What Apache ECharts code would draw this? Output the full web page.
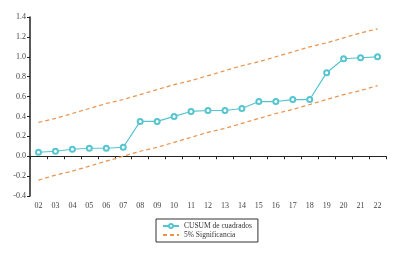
<!DOCTYPE html>
<html><head><meta charset="utf-8">
<script src="https://cdn.jsdelivr.net/npm/echarts@6/dist/echarts.min.js"></script>
<style>html,body{margin:0;padding:0;background:#fff}#c{width:395px;height:253px}</style>
</head><body><div id="c"></div>
<script>
var categories = ['02','03','04','05','06','07','08','09','10','11','12','13','14','15','16','17','18','19','20','21','22'];
var cusum = [0.04,0.05,0.07,0.08,0.08,0.09,0.35,0.35,0.40,0.45,0.46,0.46,0.48,0.55,0.55,0.57,0.57,0.84,0.98,0.99,1.00];
var upper = [0.34,0.38,0.43,0.48,0.53,0.57,0.62,0.67,0.72,0.76,0.81,0.86,0.91,0.95,1.00,1.05,1.10,1.14,1.19,1.24,1.28];
var lower = [-0.24,-0.19,-0.15,-0.10,-0.05,0.00,0.05,0.09,0.14,0.19,0.24,0.28,0.33,0.38,0.43,0.47,0.52,0.57,0.62,0.66,0.71];
var yTicks = ['-0.4','-0.2','0.0','0.2','0.4','0.6','0.8','1.0','1.2','1.4'];

var font = 'Liberation Serif';
var chart = echarts.init(document.getElementById('c'), null, {renderer:'canvas'});
chart.setOption({
  animation:false,
  textStyle:{fontFamily:font},
  grid:{left:30,right:9,top:17,bottom:57},
  legend:{
    orient:'vertical', left:156, top:219, width:103,
    padding:[3,6,3,6], itemGap:1, itemWidth:16, itemHeight:5,
    borderColor:'#333', borderWidth:1,
    textStyle:{fontFamily:font,fontSize:7.5,color:'#333'},
    data:[{name:'CUSUM de cuadrados'},{name:'5% Significancia',itemStyle:{opacity:0}}]
  },
  xAxis:{
    type:'category', data:categories, boundaryGap:true,
    axisLine:{lineStyle:{color:'#222',width:1}},
    axisTick:{show:true,length:3,lineStyle:{color:'#222'}},
    axisLabel:{fontFamily:font,fontSize:8,color:'#444',margin:6}
  },
  yAxis:{
    type:'value', min:-0.4, max:1.4, interval:0.2,
    axisLine:{show:true,lineStyle:{color:'#222',width:1.5}},
    axisTick:{show:true,length:3,lineStyle:{color:'#222'}},
    splitLine:{show:false},
    axisLabel:{fontFamily:font,fontSize:8,color:'#444',margin:4,
      formatter:function(v){var i=Math.round((v+0.4)/0.2);return yTicks[i];}}
  },
  series:[
    {name:'CUSUM de cuadrados',type:'line',data:cusum,symbol:'emptyCircle',symbolSize:5,
     lineStyle:{color:'#56c5cf',width:1.2},itemStyle:{color:'#56c5cf',borderWidth:1.2}},
    {name:'5% Significancia',type:'line',data:upper,symbol:'none',
     lineStyle:{color:'#e8924c',width:1.2,type:[4,3]},itemStyle:{color:'#e8924c'}},
    {name:'5% Significancia',type:'line',data:lower,symbol:'none',
     lineStyle:{color:'#e8924c',width:1.2,type:[4,3]},itemStyle:{color:'#e8924c'}}
  ]
});
</script></body></html>
